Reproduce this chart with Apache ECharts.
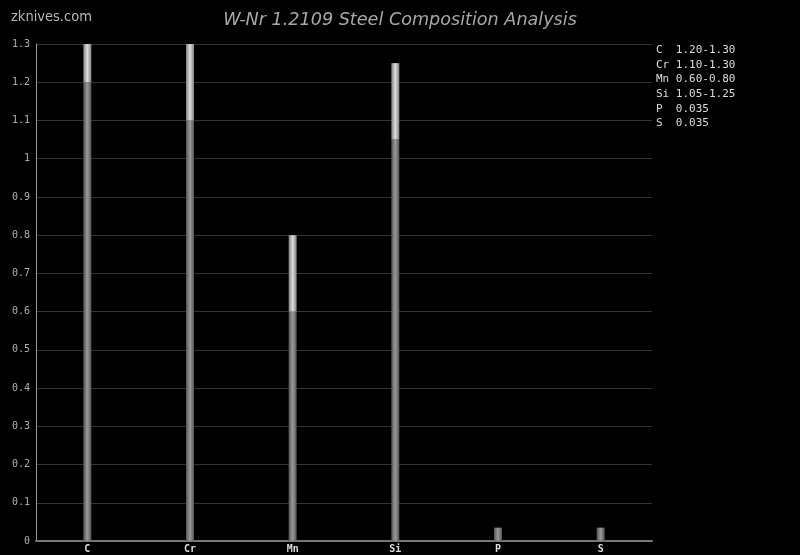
<!DOCTYPE html>
<html>
<head>
<meta charset="utf-8">
<style>
html,body{margin:0;padding:0;background:#000;}
#chart{width:800px;height:555px;}
</style>
<script src="https://cdn.jsdelivr.net/npm/echarts@6/dist/echarts.min.js"></script>
</head>
<body>
<div id="chart"></div>
<script>
var categories = ['C', 'Cr', 'Mn', 'Si', 'P', 'S'];
var minValues = [1.20, 1.10, 0.60, 1.05, 0.035, 0.035];
var rangeValues = [0.10, 0.20, 0.20, 0.20, 0, 0];
var specLabels = ['1.20-1.30', '1.10-1.30', '0.60-0.80', '1.05-1.25', '0.035', '0.035'];
var yTicks = {min: 0, max: 1.3, interval: 0.1};

function grad(edge, mid) {
  return new echarts.graphic.LinearGradient(0, 0, 1, 0, [
    {offset: 0, color: edge}, {offset: 0.5, color: mid}, {offset: 1, color: edge}
  ]);
}

var legendLines = categories.map(function (c, i) {
  var pad = c.length < 2 ? c + '  ' : c + ' ';
  return pad + specLabels[i];
});

var chart = echarts.init(document.getElementById('chart'), null, {renderer: 'canvas'});
chart.setOption({
  backgroundColor: '#000',
  animation: false,
  title: [{
    text: 'W-Nr 1.2109 Steel Composition Analysis',
    left: 'center', top: 6,
    textStyle: {color: '#a8a8a8', fontSize: 17.6, fontStyle: 'italic', fontWeight: 'normal', fontFamily: 'DejaVu Sans'}
  }, {
    text: 'zknives.com',
    left: 6, top: 5,
    textStyle: {color: '#b8b8b8', fontSize: 14.5, fontWeight: 'normal', fontFamily: 'DejaVu Sans Condensed'}
  }],
  graphic: [{
    type: 'text', left: 656, top: 43,
    style: {
      text: legendLines.join('\n'),
      fill: '#dcdcdc',
      font: '11px "DejaVu Sans Mono"',
      lineHeight: 14.6
    }
  }],
  grid: {left: 36, right: 148, top: 44, bottom: 14},
  xAxis: {
    type: 'category',
    data: categories,
    axisLine: {lineStyle: {color: '#777', width: 2}},
    axisTick: {show: false},
    axisLabel: {color: '#dcdcdc', fontSize: 10, fontWeight: 'bold', fontFamily: 'DejaVu Sans Mono', margin: 3},
    splitLine: {show: false}
  },
  yAxis: {
    type: 'value',
    min: yTicks.min, max: yTicks.max, interval: yTicks.interval,
    axisLine: {show: true, lineStyle: {color: '#999', width: 1}},
    axisTick: {show: false},
    axisLabel: {color: '#b0b0b0', fontSize: 10, fontFamily: 'DejaVu Sans Mono', margin: 6},
    splitLine: {lineStyle: {color: '#333', width: 1}}
  },
  series: [{
    type: 'bar', stack: 'comp', data: minValues, barWidth: 8,
    itemStyle: {color: grad('#555', '#999')}
  }, {
    type: 'bar', stack: 'comp', data: rangeValues, barWidth: 8,
    itemStyle: {color: grad('#808080', '#dedede')}
  }]
});
</script>
</body>
</html>
